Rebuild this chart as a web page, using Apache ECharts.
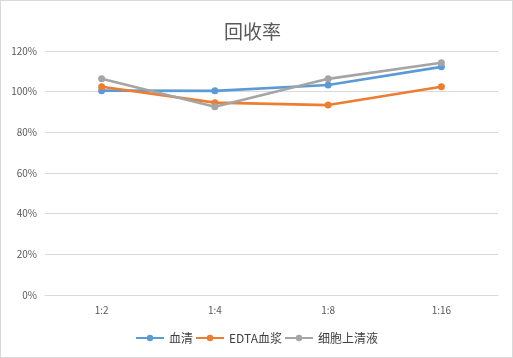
<!DOCTYPE html>
<html><head><meta charset="utf-8">
<script src="https://cdn.jsdelivr.net/npm/echarts@6/dist/echarts.min.js"></script>
<style>html,body{margin:0;padding:0;background:#fff}#c{width:511px;height:356px;border:1px solid #d9d9d9}</style>
</head><body><div id="c"></div>
<script>
var categories = ['1:2', '1:4', '1:8', '1:16'];
var serum = [100.5, 100.4, 103.3, 112.2];
var edta = [102.4, 94.6, 93.4, 102.4];
var supernatant = [106.3, 92.6, 106.3, 114.2];
var names = ['血清', 'EDTA血浆', '细胞上清液'];
var colors = ['#5B9BD5', '#ED7D31', '#A5A5A5'];
var font = '"Noto Sans CJK SC", sans-serif';
var chart = echarts.init(document.getElementById('c'));
function s(name, data, color) {
  return { name: name, type: 'line', data: data, symbol: 'circle', symbolSize: 7,
    lineStyle: { width: 2.6, color: color }, itemStyle: { color: color }, animation: false };
}
chart.setOption({
  title: { text: '回收率', left: 218, top: 16, textStyle: { fontFamily: font, fontSize: 19, fontWeight: 'normal', color: '#595959' } },
  legend: { bottom: 8, left: 'center', itemGap: 2, itemWidth: 28, itemHeight: 8,
    textStyle: { fontFamily: font, fontSize: 12, color: '#404040' }, data: names },
  grid: { left: 44, right: 14, top: 50, bottom: 62 },
  xAxis: { type: 'category', data: categories, boundaryGap: true,
    axisLine: { lineStyle: { color: '#d9d9d9' } }, axisTick: { show: false },
    axisLabel: { fontFamily: font, fontSize: 10, color: '#595959', margin: 10 } },
  yAxis: { type: 'value', min: 0, max: 120, interval: 20,
    axisLine: { show: false }, axisTick: { show: false },
    splitLine: { lineStyle: { color: '#d9d9d9' } },
    axisLabel: { fontFamily: font, fontSize: 10, color: '#595959', formatter: '{value}%', margin: 8 } },
  series: [s(names[0], serum, colors[0]), s(names[1], edta, colors[1]), s(names[2], supernatant, colors[2])]
});
</script></body></html>
